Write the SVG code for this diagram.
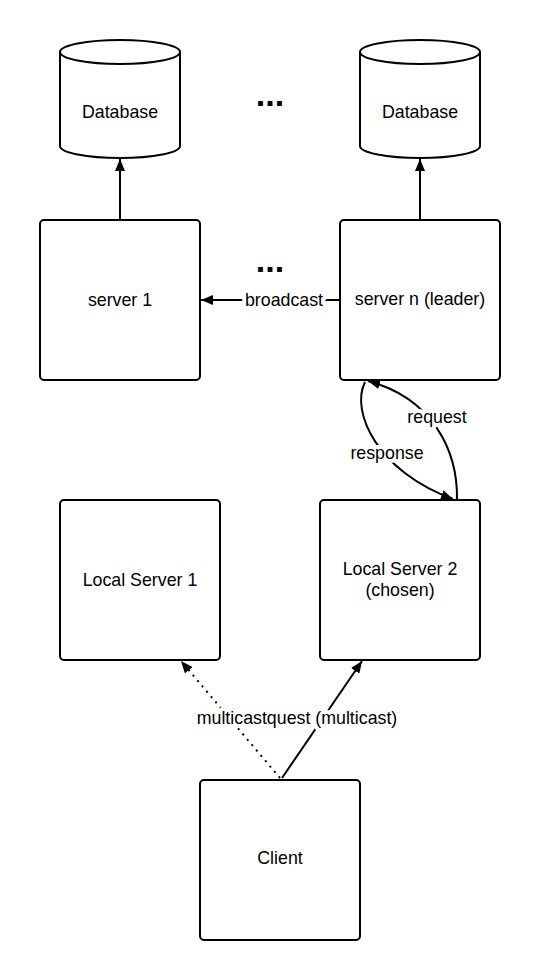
<svg xmlns="http://www.w3.org/2000/svg" width="540" height="980" viewBox="0 0 540 980">
<style>
.box{fill:#fff;stroke:#000;stroke-width:2}
.t{font-family:"Liberation Sans",Arial,sans-serif;font-size:17.8px;fill:#000;text-anchor:middle}
.lbl{font-family:"Liberation Sans",Arial,sans-serif;font-size:17.8px;fill:#000;text-anchor:middle;stroke:#fff;stroke-width:8;paint-order:stroke;stroke-linejoin:round}
.dots{font-family:"Liberation Sans",Arial,sans-serif;font-size:34px;font-weight:bold;fill:#000;text-anchor:middle}
.c{fill:none;stroke:#000;stroke-width:2}
.dot{fill:none;stroke:#000;stroke-width:2;stroke-dasharray:2 5}
</style>
<defs>
<marker id="ah" viewBox="0 0 12 10" refX="12" refY="5" markerWidth="12" markerHeight="10" markerUnits="userSpaceOnUse" orient="auto">
<path d="M0,0 L12,5 L0,10 Z" fill="#000"/>
</marker>
</defs>
<rect width="540" height="980" fill="#fff"/>
<g id="connectors">
<line class="c" x1="120" y1="220" x2="120" y2="159" marker-end="url(#ah)"/>
<line class="c" x1="420" y1="220" x2="420" y2="159" marker-end="url(#ah)"/>
<line class="c" x1="340" y1="300" x2="201" y2="300" marker-end="url(#ah)"/>
<path class="c" d="M457,500 C458,450 432,398 368,381" marker-end="url(#ah)"/>
<path class="c" d="M365,382 C350,412 378,472 453,499" marker-end="url(#ah)"/>
<line class="dot" x1="280" y1="778" x2="181" y2="661" marker-end="url(#ah)"/>
<line class="c" x1="282" y1="778" x2="362" y2="661" marker-end="url(#ah)"/>
<text class="lbl" x="284" y="306">broadcast</text>
<text class="lbl" x="437" y="423">request</text>
<text class="lbl" x="387" y="459">response</text>
<text class="lbl" x="297" y="724">multicastquest (multicast)</text>
</g>
<g id="db1">
<path class="box" d="M60,52 L60,146 A60,12 0 0 0 180,146 L180,52"/>
<ellipse class="box" cx="120" cy="52" rx="60" ry="12"/>
<text class="t" x="120" y="118">Database</text>
</g>
<g id="db2">
<path class="box" d="M360,52 L360,146 A60,12 0 0 0 480,146 L480,52"/>
<ellipse class="box" cx="420" cy="52" rx="60" ry="12"/>
<text class="t" x="420" y="118">Database</text>
</g>
<g id="ellipsis1"><text class="dots" x="270" y="106">...</text></g>
<g id="ellipsis2"><text class="dots" x="270" y="272">...</text></g>
<g id="server1">
<rect class="box" x="40" y="220" width="160" height="160" rx="4"/>
<text class="t" x="120" y="306">server 1</text>
</g>
<g id="servern">
<rect class="box" x="340" y="220" width="160" height="160" rx="4"/>
<text class="t" x="420" y="305">server n (leader)</text>
</g>
<g id="local1">
<rect class="box" x="60" y="500" width="160" height="160" rx="4"/>
<text class="t" x="140" y="586">Local Server 1</text>
</g>
<g id="local2">
<rect class="box" x="320" y="500" width="160" height="160" rx="4"/>
<text class="t" x="400" y="575">Local Server 2</text>
<text class="t" x="400" y="596">(chosen)</text>
</g>
<g id="client">
<rect class="box" x="200" y="780" width="160" height="160" rx="4"/>
<text class="t" x="280" y="864">Client</text>
</g>
</svg>
